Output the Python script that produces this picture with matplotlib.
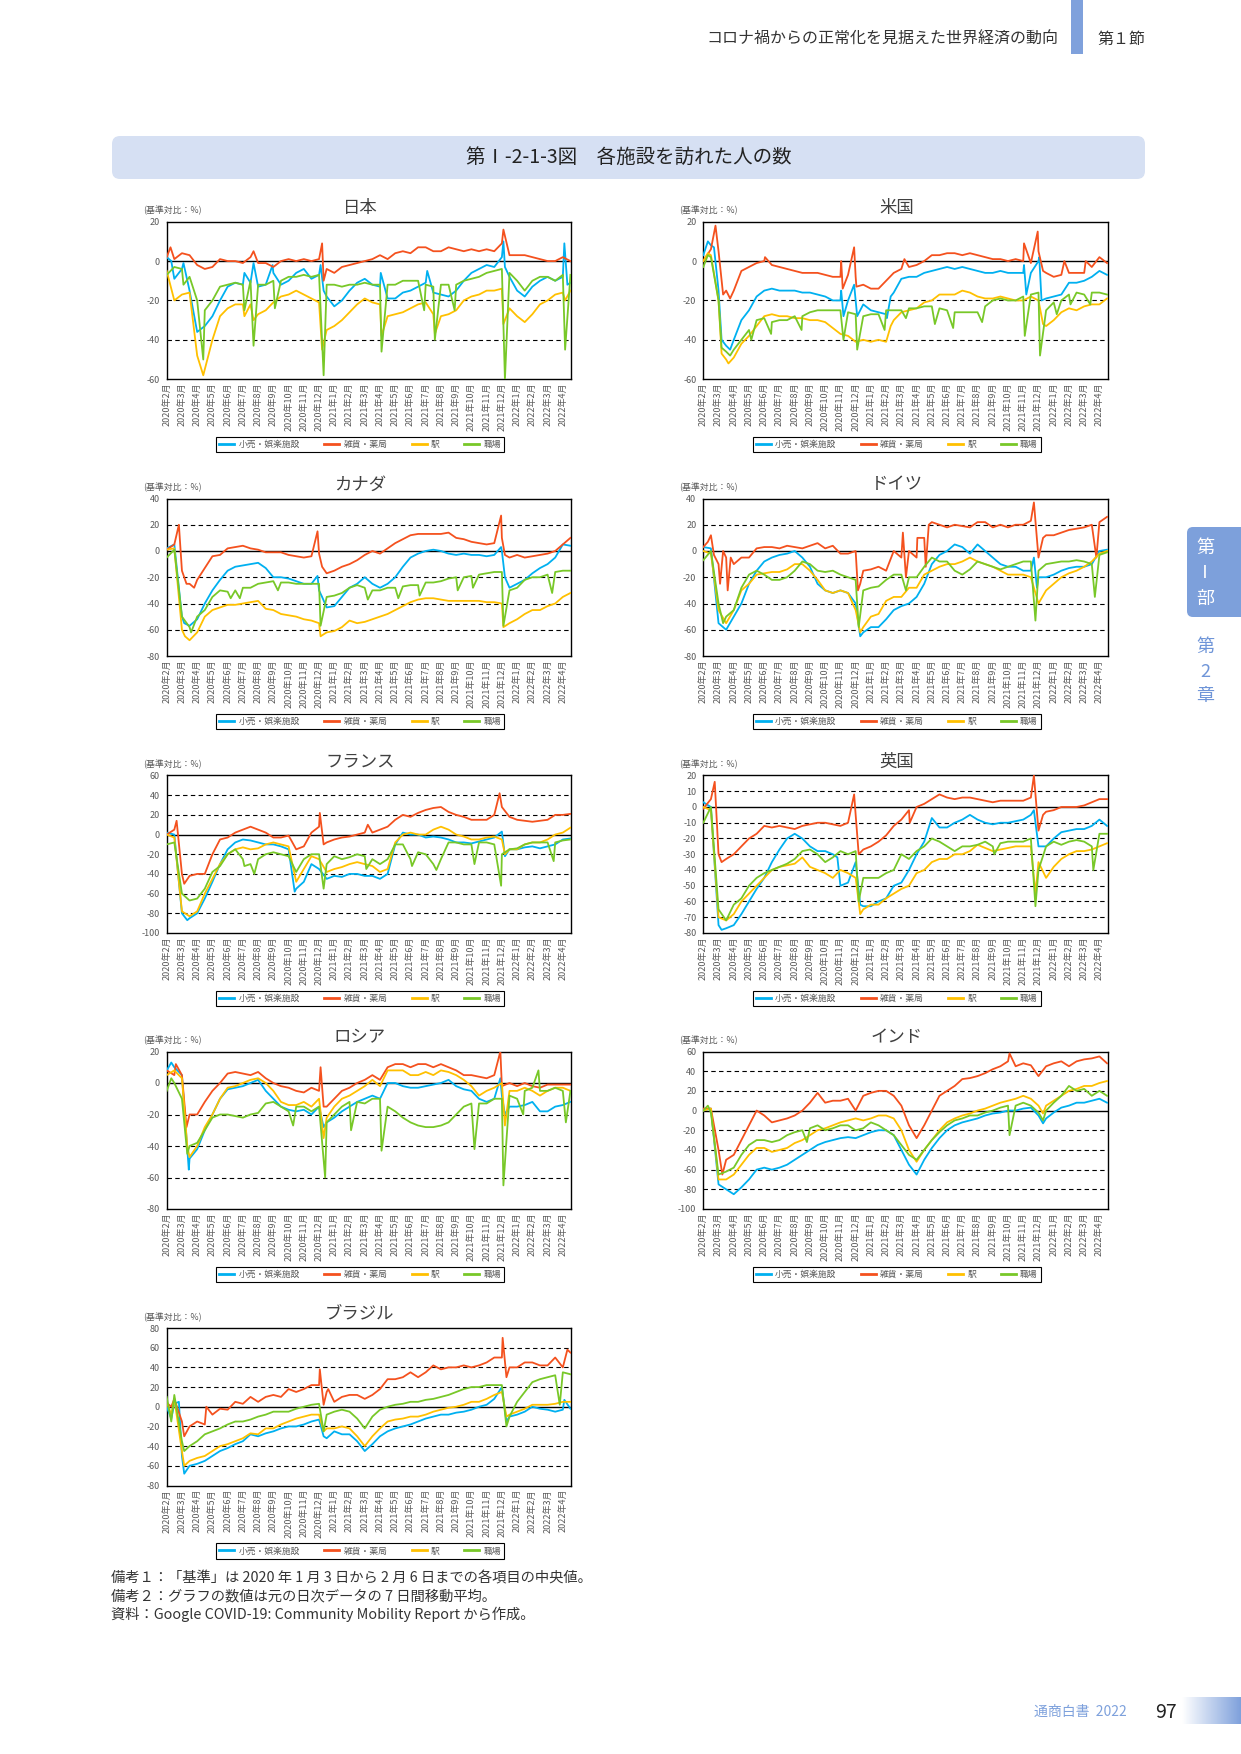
import numpy as np
import matplotlib.pyplot as plt
from matplotlib.patches import FancyBboxPatch
from matplotlib.lines import Line2D
from matplotlib.colors import LinearSegmentedColormap

plt.rcParams['font.family'] = ['Noto Sans CJK JP', 'DejaVu Sans']
plt.rcParams['axes.unicode_minus'] = False

# ---- data: values read every half month from the left edge (2020年2月) ----
MONTH_LABELS = [f'{2020 + (i + 1) // 12}年{(i + 1) % 12 + 1}月' for i in range(27)]
SERIES = ['小売・娯楽施設', '雑貨・薬局', '駅', '職場']
COLORS = ['#00b0f0', '#f4511e', '#ffc000', '#78c828']

JP_RETAIL = [2, -9, -4, -15, -36, -33, -28, -20, -13, -11,
             -12, -11, -13, -12, -6, -12, -10, -6, -4, -9,
             -7, -18, -23, -20, -15, -11, -9, -12, -13, -19,
             -19, -16, -15, -13, -11, -16, -17, -18, -15, -10,
             -6, -4, -2, -3, 2, -8, -15, -18, -13, -10,
             -8, -10, -8, -11]
JP_GROCERY = [2, 1, 4, 3, -2, -4, -3, 1, 0, 0,
              -1, 2, -1, -1, -3, 0, 1, 0, 1, 0,
              1, -4, -6, -3, -2, -1, 0, 1, 3, 1,
              4, 5, 4, 7, 7, 5, 5, 7, 6, 5,
              6, 5, 6, 5, 9, 3, 3, 3, 2, 1,
              0, 0, 2, 0]
JP_TRANSIT = [-5, -20, -17, -16, -48, -55, -40, -28, -24, -22,
              -22, -22, -27, -25, -21, -18, -17, -15, -17, -19,
              -21, -35, -33, -30, -26, -22, -19, -21, -22, -28,
              -27, -26, -24, -22, -21, -27, -28, -27, -25, -20,
              -18, -17, -15, -15, -14, -24, -28, -31, -27, -22,
              -20, -17, -16, -15]
JP_WORK = [-7, -3, -4, -8, -20, -25, -20, -13, -12, -11,
           -12, -10, -12, -12, -10, -10, -8, -8, -7, -8,
           -7, -12, -12, -13, -12, -12, -11, -12, -12, -12,
           -12, -10, -10, -10, -12, -13, -12, -12, -12, -10,
           -9, -8, -6, -5, -4, -6, -10, -15, -10, -8,
           -8, -10, -7, -7]
JP_RETAIL_SPIKES = [(0.3, 0), (1.1, -1), (5.1, -6), (5.7, -1), (6.95, -2), (10.1, -2),
                    (10.3, -15), (14.05, -6), (17.1, -5), (22.1, 10), (22.2, -3),
                    (26.1, 9), (26.3, -12)]
JP_GROCERY_SPIKES = [(0.25, 7), (5.7, 5), (10.2, 9), (10.3, -10), (22.1, 16)]
JP_TRANSIT_SPIKES = [(2.4, -58), (5.1, -28), (5.7, -30), (10.2, -45), (14.1, -38),
                     (17.6, -37), (22.1, -32), (26.15, -20)]
JP_WORK_SPIKES = [(1.1, -12), (2.4, -50), (5.1, -25), (5.7, -43), (7.1, -24), (10.3, -58),
                  (14.1, -46), (16.9, -25), (17.6, -40), (18.9, -25), (22.2, -60),
                  (26.15, -45)]

US_RETAIL = [3, 8, -15, -43, -40, -30, -25, -18, -15, -14,
             -15, -15, -15, -16, -16, -17, -18, -20, -20, -20,
             -20, -22, -25, -26, -27, -16, -9, -8, -8, -6,
             -5, -4, -3, -4, -3, -4, -5, -6, -6, -5,
             -6, -6, -6, -6, 0, -19, -18, -17, -11, -11,
             -10, -8, -5, -7]
US_GROCERY = [0, 6, 5, -15, -15, -5, -3, -1, 0, -2,
              -3, -4, -5, -6, -6, -6, -7, -8, -8, -7,
              -8, -12, -14, -14, -10, -6, -4, -3, -2, 0,
              3, 3, 4, 4, 3, 4, 3, 2, 1, 1,
              0, 1, 0, -1, 5, -6, -8, -7, -6, -6,
              -6, -3, 2, -1]
US_TRANSIT = [0, 3, -20, -50, -49, -42, -38, -33, -28, -27,
              -28, -28, -29, -29, -30, -30, -31, -34, -37, -38,
              -41, -40, -41, -40, -41, -30, -26, -25, -24, -21,
              -20, -17, -17, -17, -15, -16, -18, -19, -19, -18,
              -19, -20, -20, -18, -20, -33, -30, -26, -24, -25,
              -23, -22, -22, -19]
US_WORK = [-3, 2, -20, -46, -45, -40, -35, -30, -29, -31,
           -30, -30, -28, -28, -26, -25, -25, -25, -25, -26,
           -27, -28, -27, -27, -25, -25, -25, -24, -24, -23,
           -23, -24, -25, -26, -26, -26, -26, -23, -20, -19,
           -20, -20, -18, -17, -16, -25, -21, -20, -17, -16,
           -17, -16, -16, -17]
US_RETAIL_SPIKES = [(0.3, 10), (0.7, 7), (1.2, -40), (1.76, -45), (9.05, -15), (9.2, -28),
                    (9.9, -12), (10.1, -28), (12.05, -29), (12.3, -18), (21.05, -2),
                    (21.2, -17), (22.05, 2), (22.2, -20)]
US_GROCERY_SPIKES = [(0.8, 18), (1.3, -17), (1.76, -19), (4.05, 2), (9.05, 0), (9.15, -14),
                     (9.9, 7), (10.05, -13), (13.2, 1), (21.05, 9), (21.95, 15),
                     (22.3, -5), (23.7, 0), (25.1, 0)]
US_TRANSIT_SPIKES = [(0.3, 4), (1.2, -47), (1.65, -52), (12.3, -33), (22.3, -32)]
US_WORK_SPIKES = [(0.3, 3), (1.2, -44), (1.76, -48), (3.15, -40), (4.45, -37), (6.45, -35),
                  (9.2, -40), (10.1, -45), (11.9, -35), (13.3, -29), (15.2, -32),
                  (16.4, -34), (18.3, -31), (21.1, -38), (22.1, -48), (23.2, -27),
                  (24.1, -22), (25.4, -22)]

CA_RETAIL = [2, 5, -50, -57, -52, -40, -30, -22, -15, -12,
             -11, -10, -9, -13, -20, -20, -21, -23, -25, -25,
             -30, -43, -42, -35, -28, -25, -20, -25, -28, -25,
             -20, -12, -5, -2, 0, 1, 0, -2, -3, -2,
             -3, -3, -4, -3, 0, -28, -25, -22, -17, -13,
             -10, -5, 5, 4]
CA_GROCERY = [1, 5, -15, -25, -22, -13, -4, -3, 2, 3,
              4, 2, 1, -1, -1, -1, -3, -4, -5, -4,
              -2, -17, -15, -12, -10, -7, -3, 0, -2, 2,
              6, 9, 12, 13, 13, 13, 13, 14, 10, 9,
              7, 6, 5, 6, 10, -5, -3, -5, -4, -3,
              -2, 0, 5, 10]
CA_TRANSIT = [1, 2, -60, -68, -62, -50, -45, -43, -41, -41,
              -40, -39, -38, -44, -45, -48, -49, -50, -52, -53,
              -55, -62, -61, -58, -53, -55, -54, -52, -50, -48,
              -45, -42, -39, -37, -36, -36, -37, -38, -38, -38,
              -38, -38, -39, -39, -40, -55, -52, -48, -45, -45,
              -42, -40, -35, -32]
CA_WORK = [-5, 1, -50, -58, -50, -45, -35, -30, -31, -30,
           -28, -28, -25, -24, -23, -24, -24, -25, -25, -25,
           -25, -35, -34, -32, -28, -26, -28, -30, -30, -28,
           -28, -27, -26, -26, -24, -24, -23, -21, -20, -20,
           -19, -18, -17, -16, -16, -30, -28, -22, -20, -20,
           -18, -16, -15, -15]
CA_RETAIL_SPIKES = [(1.15, -55), (9.9, -19), (10.2, -35), (21.95, 3), (22.2, -20)]
CA_GROCERY_SPIKES = [(0.8, 20), (1.3, -25), (1.8, -28), (9.9, 15), (10.2, -12),
                     (21.95, 27), (22.2, -3)]
CA_TRANSIT_SPIKES = [(1.2, -65), (10.1, -65), (22.1, -58)]
CA_WORK_SPIKES = [(1.6, -62), (4.2, -36), (4.8, -36), (7.3, -30), (10.1, -57), (13.2, -37),
                  (15.2, -36), (16.6, -34), (19.1, -30), (20.1, -28), (22.1, -57),
                  (25.3, -32)]

DE_RETAIL = [3, 2, -55, -60, -50, -40, -25, -15, -8, -5,
             -3, -2, 0, -5, -12, -25, -30, -32, -30, -32,
             -40, -62, -58, -58, -52, -45, -42, -40, -35, -25,
             -10, -3, 0, 5, 3, -2, 5, 0, -5, -10,
             -12, -12, -15, -15, -20, -20, -18, -15, -13, -12,
             -12, -10, 0, 1]
DE_GROCERY = [3, 12, -10, -5, -10, -5, -5, 2, 3, 3,
              2, 4, 3, 2, 4, 6, 2, 4, -2, -2,
              0, -15, -14, -12, -15, 0, -5, 0, -5, 10,
              22, 20, 18, 20, 19, 18, 22, 22, 18, 20,
              18, 20, 20, 23, -5, 12, 12, 14, 16, 17,
              18, 20, 22, 26]
DE_TRANSIT = [0, -2, -45, -55, -45, -30, -25, -18, -17, -16,
              -16, -14, -10, -10, -15, -22, -30, -32, -30, -32,
              -45, -58, -50, -48, -38, -35, -35, -28, -28, -18,
              -15, -12, -10, -10, -8, -5, -8, -10, -12, -15,
              -18, -18, -18, -20, -40, -30, -25, -20, -17, -15,
              -12, -8, -2, 0]
DE_WORK = [-7, 0, -40, -50, -45, -28, -18, -15, -18, -22,
           -22, -20, -15, -8, -10, -15, -16, -15, -18, -20,
           -22, -30, -28, -27, -22, -18, -18, -20, -20, -12,
           -5, -8, -8, -15, -18, -14, -8, -10, -12, -14,
           -12, -10, -8, -8, -15, -10, -9, -8, -8, -7,
           -8, -10, -3, -1]
DE_RETAIL_SPIKES = [(10.3, -65), (21.7, -5), (21.9, -28)]
DE_GROCERY_SPIKES = [(0.3, 7), (0.7, -3), (1.1, -25), (1.3, 0), (1.6, -30), (1.8, -5),
                     (10.15, -30), (10.3, -25), (13.1, 14), (13.3, -20), (14.05, 10),
                     (14.6, -12), (14.8, 20), (21.7, 37), (22.3, 10), (25.8, -5)]
DE_TRANSIT_SPIKES = [(10.3, -62)]
DE_WORK_SPIKES = [(1.3, -55), (10.2, -58), (13.3, -30), (21.8, -53), (25.7, -35)]

FR_RETAIL = [2, 0, -80, -85, -80, -65, -48, -30, -15, -8,
             -5, -6, -8, -10, -10, -12, -15, -55, -48, -30,
             -35, -45, -42, -43, -40, -40, -42, -42, -45, -40,
             -10, 2, 0, 0, -3, -2, -3, -5, -8, -8,
             -9, -7, -5, -3, 3, -15, -15, -13, -12, -14,
             -12, -10, -5, -4]
FR_GROCERY = [0, 5, -40, -42, -40, -40, -20, -5, -3, 2,
              5, 8, 5, 2, -3, -3, -1, -15, -12, 2,
              8, -8, -5, -3, -2, 0, 2, 2, 5, 8,
              15, 20, 18, 22, 25, 27, 28, 23, 20, 18,
              15, 15, 15, 20, 28, 18, 15, 14, 13, 14,
              15, 20, 20, 21]
FR_TRANSIT = [0, -3, -78, -83, -78, -60, -45, -30, -20, -15,
              -13, -15, -14, -10, -8, -10, -12, -48, -35, -22,
              -25, -38, -35, -33, -30, -28, -30, -32, -38, -35,
              -8, 0, 2, 0, 0, 5, 8, 5, 0, -2,
              -5, -5, -3, -2, -5, -15, -15, -10, -8, -8,
              -5, 0, 2, 7]
FR_WORK = [-10, -8, -60, -67, -65, -55, -38, -32, -20, -15,
           -25, -30, -25, -20, -18, -20, -22, -38, -25, -20,
           -20, -30, -22, -25, -23, -20, -22, -25, -30, -25,
           -10, -10, -25, -18, -20, -30, -25, -8, -8, -10,
           -10, -8, -8, -10, -20, -15, -14, -10, -8, -8,
           -8, -8, -6, -5]
FR_RETAIL_SPIKES = [(1.35, -87), (8.4, -58), (22.2, -22)]
FR_GROCERY_SPIKES = [(0.65, 14), (1.15, -50), (10.05, 22), (10.3, -10), (13.2, 10),
                     (21.85, 42)]
FR_TRANSIT_SPIKES = [(22.2, -20)]
FR_WORK_SPIKES = [(5.1, -32), (5.75, -40), (10.3, -55), (13.1, -35), (16.1, -32),
                  (17.7, -36), (20.2, -30), (21.95, -52), (25.4, -27)]

UK_RETAIL = [3, 0, -75, -77, -75, -68, -60, -52, -45, -35,
             -27, -20, -17, -20, -25, -28, -28, -30, -50, -48,
             -35, -63, -63, -60, -58, -50, -48, -40, -30, -22,
             -7, -13, -13, -10, -8, -5, -8, -10, -11, -10,
             -10, -9, -8, -5, -25, -25, -20, -16, -15, -14,
             -14, -12, -8, -12]
UK_GROCERY = [-1, 5, -30, -33, -30, -25, -20, -17, -12, -13,
              -12, -13, -14, -12, -11, -10, -10, -11, -12, -10,
              -5, -27, -25, -22, -18, -12, -8, -2, 0, 2,
              5, 8, 6, 5, 6, 6, 5, 4, 3, 4,
              4, 4, 4, 6, -15, -3, -2, 0, 0, 0,
              1, 3, 5, 5]
UK_TRANSIT = [0, -2, -70, -72, -68, -60, -55, -50, -45, -40,
              -38, -37, -36, -32, -38, -40, -42, -45, -40, -42,
              -45, -65, -62, -62, -58, -55, -52, -50, -42, -40,
              -35, -33, -33, -30, -30, -28, -24, -26, -28, -27,
              -26, -25, -25, -25, -35, -45, -38, -33, -30, -28,
              -28, -27, -25, -23]
UK_WORK = [-10, 0, -65, -72, -62, -58, -50, -45, -42, -40,
           -38, -36, -33, -28, -27, -30, -35, -32, -28, -30,
           -28, -45, -45, -45, -42, -40, -30, -33, -28, -25,
           -20, -22, -25, -28, -25, -25, -24, -22, -25, -23,
           -22, -22, -22, -20, -40, -25, -22, -24, -22, -21,
           -22, -25, -17, -17]
UK_RETAIL_SPIKES = [(1.2, -78), (8.8, -32), (10.3, -62), (21.7, -2)]
UK_GROCERY_SPIKES = [(0.75, 16), (1.2, -35), (9.9, 8), (10.2, -30), (13.55, -10),
                     (21.7, 20), (22.3, -5)]
UK_TRANSIT_SPIKES = [(10.3, -68), (21.8, -55)]
UK_WORK_SPIKES = [(10.2, -60), (19.1, -30), (21.8, -63), (25.6, -40)]

RU_RETAIL = [8, 10, 5, -48, -42, -30, -20, -10, -4, -3,
             -2, 0, 2, -5, -10, -15, -17, -18, -17, -20,
             -15, -25, -22, -18, -15, -12, -10, -8, -10, 0,
             0, -2, -3, -3, -2, -1, 0, 2, -2, -4,
             -5, -10, -12, -10, -8, -15, -15, -14, -12, -18,
             -18, -15, -14, -12]
RU_GROCERY = [8, 5, 5, -20, -20, -12, -5, 0, 6, 7,
              6, 5, 7, 3, 0, -2, -3, -5, -6, -3,
              -5, -15, -10, -5, -3, 0, 2, 5, 2, 10,
              12, 12, 10, 12, 12, 10, 12, 10, 8, 5,
              5, 4, 3, 5, -2, 0, -2, 0, -2, -3,
              -1, -1, -1, -1]
RU_TRANSIT = [5, 8, 3, -47, -40, -28, -20, -10, -3, -2,
              0, 2, 3, 0, -5, -12, -14, -14, -12, -15,
              -10, -22, -15, -10, -8, -5, -2, 2, -2, 8,
              8, 8, 5, 5, 7, 5, 8, 7, 5, 2,
              -2, -8, -5, -3, 0, -5, -5, -3, -5, -8,
              -5, -3, -3, -5]
RU_WORK = [-5, 0, -10, -40, -38, -30, -22, -20, -20, -21,
           -22, -20, -19, -13, -12, -15, -18, -15, -15, -18,
           -15, -25, -20, -15, -12, -12, -13, -10, -10, -15,
           -18, -22, -25, -27, -28, -28, -27, -25, -20, -15,
           -13, -13, -13, -10, -10, -8, -10, -5, -3, -5,
           -5, -3, -5, -5]
RU_RETAIL_SPIKES = [(0.3, 13), (1.45, -55), (10.3, -28), (21.9, 3), (22.2, -20)]
RU_GROCERY_SPIKES = [(0.6, 12), (1.3, -28), (10.1, 10), (10.3, -15), (21.9, 20)]
RU_TRANSIT_SPIKES = [(1.35, -40), (10.3, -35), (22.2, -27)]
RU_WORK_SPIKES = [(0.3, 3), (1.35, -45), (8.3, -27), (10.4, -60), (12.1, -30), (14.1, -43),
                  (20.2, -42), (22.1, -65), (23.4, -20), (24.4, 8), (26.2, -25)]

IN_RETAIL = [0, 2, -75, -80, -85, -78, -70, -60, -58, -60,
             -58, -55, -50, -45, -40, -35, -32, -30, -28, -27,
             -28, -25, -22, -20, -20, -25, -40, -55, -65, -50,
             -38, -28, -20, -15, -12, -10, -8, -5, -3, -2,
             0, 0, 2, 3, -5, -8, -2, 3, 5, 8,
             8, 10, 12, 8]
IN_GROCERY = [2, 2, -40, -50, -45, -30, -15, 0, -5, -12,
              -10, -8, -5, 0, 8, 18, 8, 10, 10, 12,
              0, 15, 18, 20, 20, 15, 5, -15, -28, -15,
              0, 15, 20, 25, 32, 33, 35, 38, 42, 45,
              50, 45, 48, 46, 35, 45, 48, 50, 45, 50,
              52, 53, 55, 48]
IN_TRANSIT = [0, 2, -70, -70, -65, -55, -45, -38, -38, -42,
              -40, -38, -33, -30, -25, -20, -18, -15, -12, -10,
              -8, -10, -8, -5, -5, -8, -20, -40, -52, -40,
              -30, -20, -12, -8, -5, -3, 0, 2, 5, 8,
              10, 12, 15, 12, 5, 5, 10, 15, 20, 22,
              25, 25, 28, 30]
IN_WORK = [0, -2, -65, -62, -58, -45, -35, -30, -30, -32,
           -30, -25, -22, -20, -18, -15, -20, -18, -15, -15,
           -20, -18, -12, -15, -20, -25, -35, -45, -50, -40,
           -30, -22, -15, -10, -8, -5, -5, -2, 0, 3,
           5, 5, 8, 5, -2, 0, 8, 15, 25, 20,
           22, 15, 20, 15]
IN_RETAIL_SPIKES = [(22.3, -13)]
IN_GROCERY_SPIKES = [(1.25, -65), (20.1, 58)]
IN_TRANSIT_SPIKES = [(22.3, -3)]
IN_WORK_SPIKES = [(0.3, 5), (6.8, -32), (20.1, -25), (22.3, -10)]

BR_RETAIL = [0, 3, -50, -60, -58, -55, -50, -45, -42, -38,
             -35, -28, -30, -27, -25, -22, -20, -20, -18, -15,
             -13, -32, -25, -28, -28, -35, -45, -38, -30, -25,
             -22, -20, -18, -15, -12, -10, -8, -8, -6, -5,
             -3, 0, 2, 8, 20, -10, -8, -5, 0, -2,
             -3, -5, -3, -2]
BR_GROCERY = [4, 8, -15, -20, -15, -18, -8, -2, -3, 5,
              3, 10, 5, 10, 12, 10, 18, 15, 18, 22,
              22, 15, 5, 10, 12, 12, 8, 12, 18, 28,
              28, 30, 35, 30, 35, 42, 38, 40, 40, 42,
              40, 42, 45, 50, 50, 40, 40, 45, 45, 42,
              42, 50, 40, 55]
BR_TRANSIT = [5, 8, -45, -55, -52, -50, -45, -40, -38, -35,
              -32, -27, -28, -22, -22, -18, -15, -12, -10, -8,
              -8, -22, -22, -20, -22, -30, -40, -30, -22, -15,
              -13, -12, -10, -10, -8, -5, -3, -1, 0, 2,
              5, 5, 8, 12, 15, -8, -5, -2, 2, 2,
              2, 3, 5, 5]
BR_WORK = [10, 12, -35, -40, -35, -28, -25, -22, -18, -15,
           -15, -13, -10, -8, -5, -5, -5, -2, 0, 2,
           3, -8, -5, -3, -5, -12, -22, -10, -3, 0,
           2, 3, 5, 5, 7, 8, 10, 12, 15, 18,
           20, 20, 22, 22, 22, -10, 5, 15, 25, 28,
           30, 32, 35, 33]
BR_RETAIL_SPIKES = [(0.3, -12), (0.8, 5), (1.15, -68), (10.3, -30), (22.3, -15), (26.1, 7)]
BR_GROCERY_SPIKES = [(0.3, 0), (1.15, -30), (2.6, 0), (10.05, 38), (10.3, 2), (10.6, 18),
                     (22.05, 70), (22.3, 30), (26.3, 58)]
BR_TRANSIT_SPIKES = [(0.3, -8), (1.15, -60), (10.3, -25), (22.3, -10)]
BR_WORK_SPIKES = [(0.3, -15), (1.15, -45), (10.3, -25), (22.3, -20), (25.8, 2)]

# (title, y range, y step, row, col, series, spikes)
PANELS = [
    ('日本', (-60, 20), 20, 0, 0, [JP_RETAIL, JP_GROCERY, JP_TRANSIT, JP_WORK],
     [JP_RETAIL_SPIKES, JP_GROCERY_SPIKES, JP_TRANSIT_SPIKES, JP_WORK_SPIKES]),
    ('米国', (-60, 20), 20, 0, 1, [US_RETAIL, US_GROCERY, US_TRANSIT, US_WORK],
     [US_RETAIL_SPIKES, US_GROCERY_SPIKES, US_TRANSIT_SPIKES, US_WORK_SPIKES]),
    ('カナダ', (-80, 40), 20, 1, 0, [CA_RETAIL, CA_GROCERY, CA_TRANSIT, CA_WORK],
     [CA_RETAIL_SPIKES, CA_GROCERY_SPIKES, CA_TRANSIT_SPIKES, CA_WORK_SPIKES]),
    ('ドイツ', (-80, 40), 20, 1, 1, [DE_RETAIL, DE_GROCERY, DE_TRANSIT, DE_WORK],
     [DE_RETAIL_SPIKES, DE_GROCERY_SPIKES, DE_TRANSIT_SPIKES, DE_WORK_SPIKES]),
    ('フランス', (-100, 60), 20, 2, 0, [FR_RETAIL, FR_GROCERY, FR_TRANSIT, FR_WORK],
     [FR_RETAIL_SPIKES, FR_GROCERY_SPIKES, FR_TRANSIT_SPIKES, FR_WORK_SPIKES]),
    ('英国', (-80, 20), 10, 2, 1, [UK_RETAIL, UK_GROCERY, UK_TRANSIT, UK_WORK],
     [UK_RETAIL_SPIKES, UK_GROCERY_SPIKES, UK_TRANSIT_SPIKES, UK_WORK_SPIKES]),
    ('ロシア', (-80, 20), 20, 3, 0, [RU_RETAIL, RU_GROCERY, RU_TRANSIT, RU_WORK],
     [RU_RETAIL_SPIKES, RU_GROCERY_SPIKES, RU_TRANSIT_SPIKES, RU_WORK_SPIKES]),
    ('インド', (-100, 60), 20, 3, 1, [IN_RETAIL, IN_GROCERY, IN_TRANSIT, IN_WORK],
     [IN_RETAIL_SPIKES, IN_GROCERY_SPIKES, IN_TRANSIT_SPIKES, IN_WORK_SPIKES]),
    ('ブラジル', (-80, 80), 20, 4, 0, [BR_RETAIL, BR_GROCERY, BR_TRANSIT, BR_WORK],
     [BR_RETAIL_SPIKES, BR_GROCERY_SPIKES, BR_TRANSIT_SPIKES, BR_WORK_SPIKES]),
]

NOTES = ['備考１：「基準」は 2020 年 1 月 3 日から 2 月 6 日までの各項目の中央値。',
         '備考２：グラフの数値は元の日次データの 7 日間移動平均。',
         '資料：Google COVID-19: Community Mobility Report から作成。']

# ---- layout (page pixels) ----
W, H = 1241, 1754
COL_LEFT = [166.7, 703.3]
ROW_TOP = [221.7, 498.5, 775.5, 1051.5, 1328.0]
AX_W, AX_H = 404.5, 157.5
GRID = np.arange(54) * 0.5
GRAY = '#595959'


def merged(base, spikes):
    x = np.concatenate([GRID, [s[0] for s in spikes]])
    y = np.concatenate([np.asarray(base, float), [s[1] for s in spikes]])
    order = np.argsort(x, kind='stable')
    return x[order], y[order]


fig = plt.figure(figsize=(W / 100, H / 100), dpi=100)
bg = fig.add_axes([0, 0, 1, 1])
bg.set_xlim(0, W)
bg.set_ylim(H, 0)
bg.axis('off')

# header
bg.text(1058, 39, 'コロナ禍からの正常化を見据えた世界経済の動向', ha='right', va='center',
        fontsize=11.5, color='#333333')
bg.add_patch(plt.Rectangle((1071, 0), 12, 54, color='#7fa1dc', lw=0))
bg.text(1097, 39, '第１節', ha='left', va='center', fontsize=11.5, color='#333333')

# figure title box
bg.add_patch(FancyBboxPatch((112, 136), 1033, 43, boxstyle='round,pad=0,rounding_size=8',
                            fc='#d6e0f3', ec='none'))
bg.text(629, 157, '第Ⅰ-2-1-3図　各施設を訪れた人の数', ha='center', va='center',
        fontsize=14, color='#222222')

# side tab
bg.add_patch(FancyBboxPatch((1187, 527), 70, 90, boxstyle='round,pad=0,rounding_size=6',
                            fc='#7da0db', ec='none'))
for ch, y in zip(['第', 'Ⅰ', '部'], [548, 573, 599]):
    bg.text(1205, y, ch, ha='center', va='center', fontsize=13, color='white')
for ch, y in zip(['第', '2', '章'], [647, 672, 696]):
    bg.text(1205, y, ch, ha='center', va='center', fontsize=13, color='#6f95d8')

# footer
bg.text(1127, 1712, '通商白書  2022', ha='right', va='center', fontsize=10, color='#7ea1dc')
bg.text(1166, 1712, '97', ha='center', va='center', fontsize=14, color='#222222')
grad = LinearSegmentedColormap.from_list('g', ['white', '#7fa1dc'])
bg.imshow(np.linspace(0, 1, 100)[None, :], extent=(1182, 1241, 1724, 1697), cmap=grad,
          aspect='auto')
bg.set_xlim(0, W)
bg.set_ylim(H, 0)

# notes
for i, line in enumerate(NOTES):
    bg.text(111, 1578 + 18 * i, line, ha='left', va='center', fontsize=10.3, color='#333333')

handles = [Line2D([0], [0], color=c, lw=2) for c in COLORS]

for title, ylim, ystep, row, col, series, spikes in PANELS:
    left, top = COL_LEFT[col], ROW_TOP[row]
    ax = fig.add_axes([left / W, 1 - (top + AX_H) / H, AX_W / W, AX_H / H])
    for vals, extra, color in zip(series, spikes, COLORS):
        assert len(vals) == len(GRID), title
        x, y = merged(vals, extra)
        ax.plot(x, y, color=color, lw=1.3, solid_joinstyle='round', zorder=3)
    yticks = np.arange(ylim[0], ylim[1] + 1, ystep)
    for v in yticks[1:-1]:
        if v == 0:
            ax.axhline(0, color='black', lw=1.0, zorder=2)
        else:
            ax.axhline(v, color='black', lw=0.8, ls=(0, (4, 3)), zorder=2)
    ax.set_xlim(0, 26.55)
    ax.set_ylim(*ylim)
    ax.set_yticks(yticks)
    ax.set_xticks(range(len(MONTH_LABELS)))
    ax.set_xticklabels(MONTH_LABELS, rotation=90)
    ax.tick_params(axis='both', length=0, labelsize=6.5, labelcolor=GRAY)
    ax.tick_params(axis='x', pad=2.5)
    ax.tick_params(axis='y', pad=5)
    for sp in ax.spines.values():
        sp.set_color('black')
        sp.set_linewidth(1.0)
    bg.text(left + AX_W / 2 - 9, top - 14, title, ha='center', va='center',
            fontsize=12.5, color='#404040')
    bg.text(left - 24, top - 11, '(基準対比：%)', ha='left', va='center',
            fontsize=6.4, color=GRAY)
    leg = ax.legend(handles, SERIES, loc='center', bbox_to_anchor=(0.478, -0.416), ncol=4,
                    fontsize=6.3, frameon=True, fancybox=False, edgecolor='black',
                    framealpha=1, handlelength=1.7, handletextpad=0.5, columnspacing=2.8,
                    borderpad=0.35)
    leg.get_frame().set_linewidth(0.8)
    for t in leg.get_texts():
        t.set_color(GRAY)

fig.savefig('out.png', dpi=100)
